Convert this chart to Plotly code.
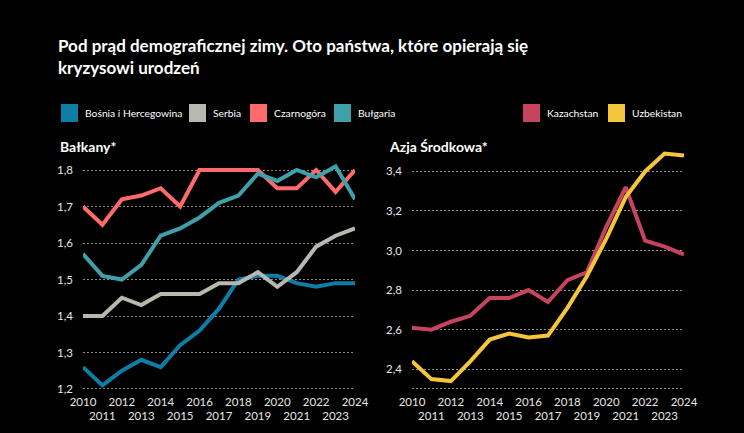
import plotly.graph_objects as go

years = list(range(2010, 2025))

bosnia = [1.26, 1.21, 1.25, 1.28, 1.26, 1.32, 1.36, 1.42, 1.50, 1.51, 1.51, 1.49, 1.48, 1.49, 1.49]
serbia = [1.40, 1.40, 1.45, 1.43, 1.46, 1.46, 1.46, 1.49, 1.49, 1.52, 1.48, 1.52, 1.59, 1.62, 1.64]
czarnogora = [1.70, 1.65, 1.72, 1.73, 1.75, 1.70, 1.80, 1.80, 1.80, 1.80, 1.75, 1.75, 1.80, 1.74, 1.80]
bulgaria = [1.57, 1.51, 1.50, 1.54, 1.62, 1.64, 1.67, 1.71, 1.73, 1.79, 1.77, 1.80, 1.78, 1.81, 1.72]

kazachstan = [2.61, 2.60, 2.64, 2.67, 2.76, 2.76, 2.80, 2.74, 2.85, 2.89, 3.12, 3.32, 3.05, 3.02, 2.98]
uzbekistan = [2.44, 2.35, 2.34, 2.44, 2.55, 2.58, 2.56, 2.57, 2.71, 2.87, 3.06, 3.27, 3.40, 3.49, 3.48]

left_names = ["Bośnia i Hercegowina", "Serbia", "Czarnogóra", "Bułgaria"]
left_colors = ["#0f7ea6", "#b9b8ae", "#ff6b6b", "#3fa0aa"]
right_names = ["Kazachstan", "Uzbekistan"]
right_colors = ["#c7445f", "#f5c63c"]

left_ticks = [1.3, 1.4, 1.5, 1.6, 1.7, 1.8]
left_labels = [1.2, 1.3, 1.4, 1.5, 1.6, 1.7, 1.8]
right_ticks = [2.4, 2.6, 2.8, 3.0, 3.2, 3.4]

W, H = 744, 433
FONT = "Lato"
GRID = "#8c8c8c"

fig = go.Figure()
for name, vals, col in zip(left_names, [bosnia, serbia, czarnogora, bulgaria], left_colors):
    fig.add_trace(go.Scatter(x=years, y=vals, mode="lines", name=name,
                             line=dict(color=col, width=4), xaxis="x", yaxis="y",
                             showlegend=False))
for name, vals, col in zip(right_names, [kazachstan, uzbekistan], right_colors):
    fig.add_trace(go.Scatter(x=years, y=vals, mode="lines", name=name,
                             line=dict(color=col, width=4), xaxis="x2", yaxis="y2",
                             showlegend=False))

def px_x(p):
    return p / W

def px_y(p):
    return 1 - p / H

BOTTOM = 389
ydom = [px_y(BOTTOM), px_y(147)]

xticktext = [str(y) if y % 2 == 0 else "<br>" + str(y) for y in years]

xaxis_common = dict(
    tickmode="array", tickvals=years, ticktext=xticktext, tickangle=0,
    showgrid=False, zeroline=False, showline=False, ticks="", automargin=False,
    ticklabelstandoff=4,
    tickfont=dict(family=FONT, size=11.5, color="#e6e6e6"),
    range=[2010, 2024], fixedrange=True,
)
yaxis_common = dict(
    showgrid=True, gridcolor=GRID, griddash="2px,2px", gridwidth=1,
    zeroline=False, showline=False, ticks="", ticklabelstandoff=9, automargin=False,
    tickfont=dict(family=FONT, size=11.5, color="#e6e6e6"),
    fixedrange=True,
)

fig.update_layout(
    width=W, height=H,
    margin=dict(l=0, r=0, t=0, b=0, autoexpand=False),
    paper_bgcolor="#000000", plot_bgcolor="#000000",
    separators=", ",
    xaxis=dict(domain=[px_x(83), px_x(355)], anchor="y", **xaxis_common),
    yaxis=dict(domain=ydom, anchor="x", range=[1.2, 1.2 + (BOTTOM - 147) / 365],
               tickvals=left_labels, tickformat=".1f", **yaxis_common),
    xaxis2=dict(domain=[px_x(412), px_x(684)], anchor="y2", **xaxis_common),
    yaxis2=dict(domain=ydom, anchor="x2", range=[2.3, 2.3 + (BOTTOM - 147) / 197.8],
                tickvals=right_ticks, tickformat=".1f", **yaxis_common),
    font=dict(family=FONT, color="#ffffff"),
)

# bottom baseline gridlines of both panels
for xa in ["x domain", "x2 domain"]:
    fig.add_shape(type="line", xref=xa, yref="paper", x0=0, x1=1,
                  y0=px_y(BOTTOM - 0.5), y1=px_y(BOTTOM - 0.5),
                  line=dict(color=GRID, width=1, dash="2px,2px"), layer="below")

annotations = []
annotations.append(dict(
    text="<b>Pod prąd demograficznej zimy. Oto państwa, które opierają się<br>kryzysowi urodzeń</b>",
    x=px_x(56), y=px_y(33), xref="paper", yref="paper", xanchor="left", yanchor="top",
    align="left", showarrow=False, font=dict(family=FONT, size=17, color="#ffffff")))
annotations.append(dict(text="<b>Bałkany*</b>", x=px_x(58), y=px_y(146), xref="paper", yref="paper",
                        xanchor="left", yanchor="middle", showarrow=False,
                        font=dict(family=FONT, size=14, color="#ffffff")))
annotations.append(dict(text="<b>Azja Środkowa*</b>", x=px_x(387), y=px_y(146), xref="paper", yref="paper",
                        xanchor="left", yanchor="middle", showarrow=False,
                        font=dict(family=FONT, size=14, color="#ffffff")))

legend_items = [
    (left_names[0], left_colors[0], 61),
    (left_names[1], left_colors[1], 189),
    (left_names[2], left_colors[2], 250),
    (left_names[3], left_colors[3], 334),
    (right_names[0], right_colors[0], 523),
    (right_names[1], right_colors[1], 608),
]
shapes = []
for name, col, x0 in legend_items:
    shapes.append(dict(type="rect", xref="paper", yref="paper",
                       x0=px_x(x0), x1=px_x(x0 + 17), y0=px_y(122), y1=px_y(104),
                       fillcolor=col, line=dict(width=0)))
    annotations.append(dict(text=name, x=px_x(x0 + 22), y=px_y(113), xref="paper", yref="paper",
                            xanchor="left", yanchor="middle", showarrow=False,
                            font=dict(family=FONT, size=10.3, color="#ffffff")))

for s in shapes:
    fig.add_shape(**s)
fig.update_layout(annotations=annotations)

fig.write_html("out.html", config={"displayModeBar": False},
               post_script="document.body.style.margin='0';")
